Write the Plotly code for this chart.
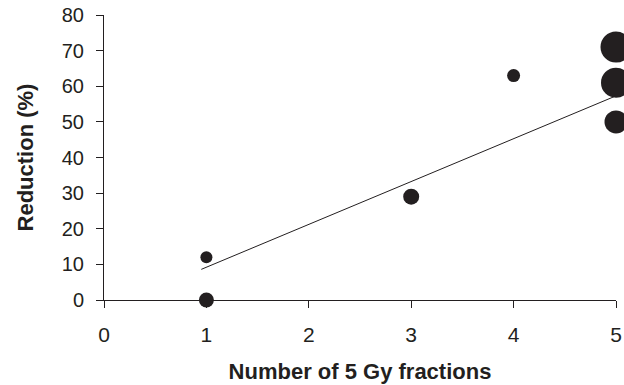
import plotly.graph_objects as go

# Data
fractions = [1, 1, 3, 4, 5, 5, 5]
reduction = [12, 0, 29, 63, 71, 61, 50]
bubble_px = [12, 15, 16, 13, 31, 30, 23]

trend_x = [0.95, 5.0]
trend_y = [8.6, 57.3]

x_ticks = [0, 1, 2, 3, 4, 5]
y_ticks = [0, 10, 20, 30, 40, 50, 60, 70, 80]

ink = "#231f20"
font_family = "Liberation Sans, Arial, sans-serif"

fig = go.Figure()
fig.add_trace(go.Scatter(
    x=trend_x, y=trend_y, mode="lines",
    line=dict(color=ink, width=1), showlegend=False, hoverinfo="skip",
))
fig.add_trace(go.Scatter(
    x=fractions, y=reduction, mode="markers",
    marker=dict(size=bubble_px, color=ink, opacity=1, line=dict(width=0)),
    cliponaxis=False, showlegend=False,
))

fig.update_layout(
    width=624, height=385,
    margin=dict(l=104, r=8, t=15, b=85),
    paper_bgcolor="white", plot_bgcolor="white",
    font=dict(family=font_family, color=ink, size=20),
)
fig.update_xaxes(
    range=[0, 5], tickvals=x_ticks, ticktext=[str(v) for v in x_ticks],
    automargin=False,
    showgrid=False, zeroline=False, showline=True, linecolor=ink, linewidth=1,
    ticks="outside", ticklen=7, tickcolor=ink, tickwidth=1,
    ticklabelstandoff=9,
    tickfont=dict(size=21, color=ink),
    title=dict(text="<b>Number of 5 Gy fractions</b>", font=dict(size=22, color=ink), standoff=18),
)
fig.update_yaxes(
    range=[0, 80], tickvals=y_ticks, ticktext=[str(v) for v in y_ticks],
    automargin=False,
    showgrid=False, zeroline=False, showline=True, linecolor=ink, linewidth=1,
    ticks="outside", ticklen=7, tickcolor=ink, tickwidth=1,
    ticklabelstandoff=8,
    tickfont=dict(size=20, color=ink),
    title=dict(text="<b>Reduction (%)</b>", font=dict(size=22, color=ink), standoff=22),
)

fig.write_html(
    "out.html",
    config={"displayModeBar": False},
    post_script="document.body.style.margin='0';",
)
